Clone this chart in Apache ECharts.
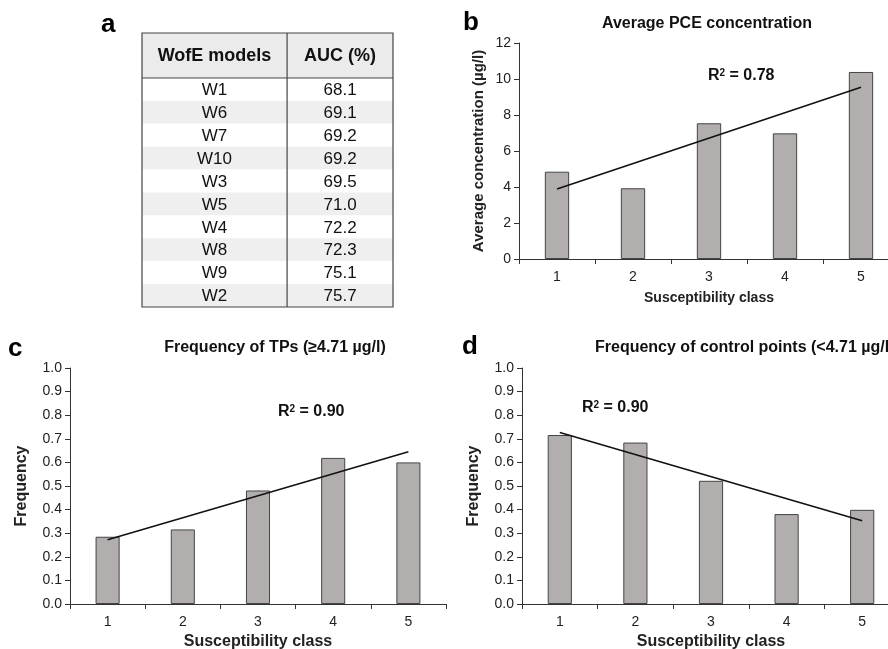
<!DOCTYPE html>
<html>
<head>
<meta charset="utf-8">
<script src="https://cdn.jsdelivr.net/npm/echarts@6/dist/echarts.min.js"></script>
<style>
  html, body { margin: 0; padding: 0; background: #fff; }
  #main { width: 888px; height: 649px; }
</style>
</head>
<body>
<div id="main"></div>
<script>
// table (a)
const models = ["W1", "W6", "W7", "W10", "W3", "W5", "W4", "W8", "W9", "W2"]
const auc = ["68.1", "69.1", "69.2", "69.2", "69.5", "71.0", "72.2", "72.3", "75.1", "75.7"]

// bar panels
const classes = ["1", "2", "3", "4", "5"]
const avgPce = [4.85, 3.93, 7.54, 6.98, 10.39]
const trendPce = [3.89, 9.54]
const freqTp = [0.285, 0.316, 0.481, 0.619, 0.6]
const trendTp = [0.272, 0.645]
const freqCtrl = [0.716, 0.684, 0.522, 0.381, 0.399]
const trendCtrl = [0.727, 0.353]

const FONT = "Liberation Sans, Arial, sans-serif"
const barColor = "#b3aeae"
const lineDark = "#333"

var myChart = echarts.init(document.getElementById("main"))

function xAx(gridIndex, nameSize, nameGap) {
  return {
    type: "category",
    gridIndex: gridIndex,
    data: classes,
    name: "Susceptibility class",
    nameLocation: "middle",
    nameGap: nameGap,
    nameTextStyle: { fontFamily: FONT, fontWeight: "bold", fontSize: nameSize, color: "#222" },
    axisLine: { lineStyle: { color: lineDark, width: 1 } },
    axisTick: { show: true, length: 5, lineStyle: { color: lineDark } },
    axisLabel: { fontFamily: FONT, fontSize: 14, color: "#222", margin: 11 }
  }
}

function yAx(gridIndex, max, interval, name, nameSize, nameGap, digits) {
  return {
    type: "value",
    gridIndex: gridIndex,
    min: 0,
    max: max,
    interval: interval,
    name: name,
    nameLocation: "middle",
    nameGap: nameGap,
    nameTextStyle: { fontFamily: FONT, fontWeight: "bold", fontSize: nameSize, color: "#222" },
    splitLine: { show: false },
    axisLine: { show: true, lineStyle: { color: lineDark, width: 1 } },
    axisTick: { show: true, length: 5, lineStyle: { color: lineDark } },
    axisLabel: {
      fontFamily: FONT, fontSize: 14, color: "#222", margin: 8,
      formatter: v => v.toFixed(digits)
    }
  }
}

function barSeries(idx, data) {
  return {
    type: "bar",
    xAxisIndex: idx,
    yAxisIndex: idx,
    data: data,
    barWidth: "32%",
    itemStyle: { color: barColor, borderColor: "#444", borderWidth: 1 },
    silent: true
  }
}

function trendSeries(idx, ends) {
  return {
    type: "line",
    xAxisIndex: idx,
    yAxisIndex: idx,
    data: [[0, ends[0]], [classes.length - 1, ends[1]]],
    symbol: "none",
    lineStyle: { color: "#111", width: 1.6 },
    silent: true,
    z: 5
  }
}

// table rows drawn with the grid's own category scale
const colSplit = 0.578
function renderRow(params, api) {
  const i = api.value(0)
  const left = api.coord([0, i])
  const right = api.coord([1, i])
  const h = api.size([0, 1])[1]
  const top = left[1] - h / 2
  const w = right[0] - left[0]
  const splitX = left[0] + w * colSplit
  return {
    type: "group",
    children: [
      {
        type: "rect",
        shape: { x: left[0], y: top, width: w, height: h },
        style: { fill: i % 2 === 1 ? "#efefef" : "#ffffff" }
      },
      {
        type: "text",
        style: {
          x: (left[0] + splitX) / 2, y: left[1] + 1,
          text: models[i], align: "center", verticalAlign: "middle",
          font: "17px " + FONT, fill: "#111"
        }
      },
      {
        type: "text",
        style: {
          x: (splitX + right[0]) / 2, y: left[1] + 1,
          text: auc[i], align: "center", verticalAlign: "middle",
          font: "17px " + FONT, fill: "#111"
        }
      }
    ]
  }
}

const tbl = { left: 142, top: 33, width: 251, headH: 45, bottom: 307 }
const splitPx = tbl.left + tbl.width * colSplit

const rText = (v) => ({
  rich: {
    b: { font: "bold 16px " + FONT, fill: "#111" },
    s: { font: "bold 10px " + FONT, fill: "#111", verticalAlign: "top", padding: [0, 0, 6, 0] }
  },
  text: "{b|R}{s|2}{b| = " + v + "}",
  verticalAlign: "middle"
})

let option = {
  backgroundColor: "#fff",
  animation: false,
  grid: [
    { left: 519, top: 43, width: 380, height: 216, outerBoundsMode: "none" },
    { left: 70, top: 368, width: 376, height: 236, outerBoundsMode: "none" },
    { left: 522, top: 368, width: 378, height: 236, outerBoundsMode: "none" },
    { left: tbl.left, top: tbl.top + tbl.headH, width: tbl.width, height: tbl.bottom - tbl.top - tbl.headH, outerBoundsMode: "none" }
  ],
  xAxis: [
    xAx(0, 14, 32),
    xAx(1, 16, 30),
    xAx(2, 16, 30),
    { type: "value", gridIndex: 3, min: 0, max: 1, show: false }
  ],
  yAxis: [
    yAx(0, 12, 2, "Average concentration (\u00b5g/l)", 15, 33, 0),
    yAx(1, 1, 0.1, "Frequency", 16, 40, 1),
    yAx(2, 1, 0.1, "Frequency", 16, 40, 1),
    { type: "category", gridIndex: 3, data: models, inverse: true, show: false }
  ],
  series: [
    barSeries(0, avgPce),
    trendSeries(0, trendPce),
    barSeries(1, freqTp),
    trendSeries(1, trendTp),
    barSeries(2, freqCtrl),
    trendSeries(2, trendCtrl),
    {
      type: "custom",
      xAxisIndex: 3,
      yAxisIndex: 3,
      data: models.map((m, i) => [i]),
      renderItem: renderRow,
      silent: true
    }
  ],
  graphic: [
    // panel letters
    { type: "text", left: 101, top: 12, style: { text: "a", font: "bold 26px " + FONT, fill: "#000" } },
    { type: "text", left: 463, top: 10, style: { text: "b", font: "bold 26px " + FONT, fill: "#000" } },
    { type: "text", left: 8, top: 336, style: { text: "c", font: "bold 26px " + FONT, fill: "#000" } },
    { type: "text", left: 462, top: 334, style: { text: "d", font: "bold 26px " + FONT, fill: "#000" } },
    // panel titles
    { type: "text", x: 707, y: 24, style: { text: "Average PCE concentration", font: "bold 16px " + FONT, fill: "#111", align: "center", verticalAlign: "middle" } },
    { type: "text", x: 275, y: 348, style: { text: "Frequency of TPs (\u22654.71 \u00b5g/l)", font: "bold 16px " + FONT, fill: "#111", align: "center", verticalAlign: "middle" } },
    { type: "text", x: 595, y: 348, style: { text: "Frequency of control points (<4.71 \u00b5g/l)", font: "bold 16px " + FONT, fill: "#111", align: "left", verticalAlign: "middle" } },
    // R squared
    { type: "text", x: 708, y: 76, style: rText("0.78") },
    { type: "text", x: 278, y: 412, style: rText("0.90") },
    { type: "text", x: 582, y: 408, style: rText("0.90") },
    // table header and borders
    { type: "rect", shape: { x: tbl.left, y: tbl.top, width: tbl.width, height: tbl.headH }, style: { fill: "#ebebeb" }, z: 1 },
    { type: "text", x: (tbl.left + splitPx) / 2, y: tbl.top + tbl.headH / 2 + 1, style: { text: "WofE models", font: "bold 18px " + FONT, fill: "#111", align: "center", verticalAlign: "middle" }, z: 2 },
    { type: "text", x: (splitPx + tbl.left + tbl.width) / 2, y: tbl.top + tbl.headH / 2 + 1, style: { text: "AUC (%)", font: "bold 18px " + FONT, fill: "#111", align: "center", verticalAlign: "middle" }, z: 2 },
    { type: "rect", shape: { x: tbl.left, y: tbl.top, width: tbl.width, height: tbl.bottom - tbl.top }, style: { fill: null, stroke: "#444", lineWidth: 1.2 }, z: 10 },
    { type: "line", shape: { x1: splitPx, y1: tbl.top, x2: splitPx, y2: tbl.bottom }, style: { stroke: "#444", lineWidth: 1.2 }, z: 10 },
    { type: "line", shape: { x1: tbl.left, y1: tbl.top + tbl.headH, x2: tbl.left + tbl.width, y2: tbl.top + tbl.headH }, style: { stroke: "#444", lineWidth: 1.2 }, z: 10 }
  ]
}

myChart.setOption(option)

window.onresize = () => {
  myChart.resize()
}
</script>
</body>
</html>
